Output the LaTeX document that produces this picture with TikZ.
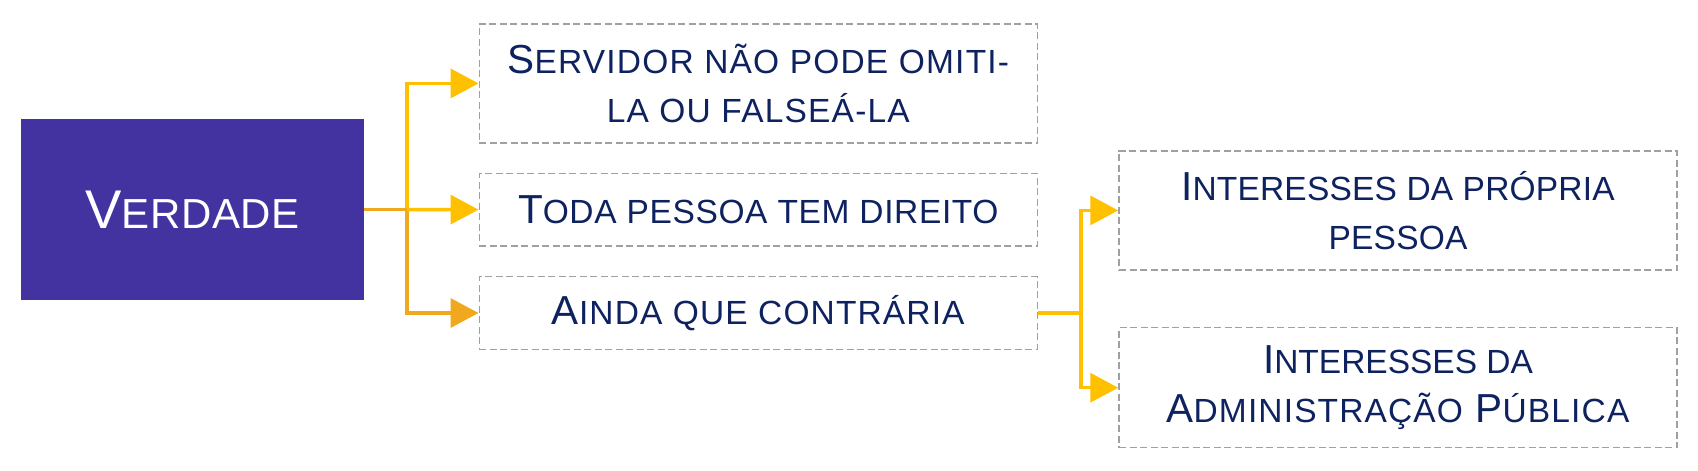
\documentclass[tikz,border=0pt]{standalone}
\usepackage{fontspec}
\setmainfont{Liberation Sans}
\usetikzlibrary{arrows.meta}

\definecolor{roxo}{RGB}{66,51,160}
\definecolor{marinho}{RGB}{14,34,96}
\definecolor{ouro}{RGB}{255,192,0}
\definecolor{laranja}{RGB}{240,168,30}
\definecolor{tracejado}{RGB}{160,160,160}

% versaletes feitos a mao
\newcommand{\vers}[1]{{\fontsize{33.5pt}{40pt}\selectfont #1}}
\newcommand{\versg}[1]{{\fontsize{42pt}{50pt}\selectfont #1}}
\newcommand{\espaco}[2]{{\addfontfeatures{LetterSpace=#1}#2}}

\tikzset{
    mainbox/.style={fill=roxo, text=white, minimum width=343pt, minimum height=181pt,
        inner sep=0pt, font=\fontsize{54.5pt}{60pt}\selectfont},
    itembox/.style={draw=tracejado, line width=1.5pt, dash pattern=on 7pt off 3.5pt,
        text=marinho, align=center, inner sep=0pt, minimum width=558pt,
        font=\fontsize{40.5pt}{49pt}\selectfont},
    link/.style={draw=ouro, line width=3.5pt, -{Triangle[length=28pt,width=29pt]}},
}

\begin{document}
\begin{tikzpicture}[x=1pt,y=-1pt]

            \useasboundingbox (0,0) rectangle (1698,471);

            \node (verdade) [mainbox] at (192.5,209.5) {\espaco{1.7}{V\versg{ERDADE}}};

            \node (servidor) [itembox, minimum height=118.7pt] at (758.3,83.4)
                {\espaco{3.6}{S\vers{ERVIDOR NÃO PODE OMITI-}}\\\espaco{3.6}{\vers{LA OU FALSEÁ-LA}}};
            \node (toda) [itembox, minimum height=72.7pt] at (758.3,209.7)
                {\espaco{1.9}{T\vers{ODA PESSOA TEM DIREITO}}};
            \node (ainda) [itembox, minimum height=72.7pt] at (758.3,313)
                {\espaco{3.4}{A\vers{INDA QUE CONTRÁRIA}}};

            \node (propria) [itembox, minimum height=119.3pt] at (1398,210.4)
                {\espaco{0.6}{I\vers{NTERESSES DA PRÓPRIA}}\\\espaco{0.6}{\vers{PESSOA}}};
            \node (publica) [itembox, minimum height=120pt] at (1398,387.7)
                {I\vers{NTERESSES DA}\\\espaco{3.4}{A\vers{DMINISTRAÇÃO} P\vers{ÚBLICA}}};

            \coordinate (garfo1) at (407,209.5);
            \coordinate (garfo2) at (1081,313);

            \draw [link] (verdade.east) -- (garfo1) |- (servidor.west);
            \draw [link, draw=laranja] (verdade.east) -- (garfo1) |- (ainda.west);
            \draw [link] (garfo1) -- (toda.west);

            \draw [link] (ainda.east) -- (garfo2) |- (propria.west);
            \draw [link] (ainda.east) -- (garfo2) |- (publica.west);

        \end{tikzpicture}
\end{document}
